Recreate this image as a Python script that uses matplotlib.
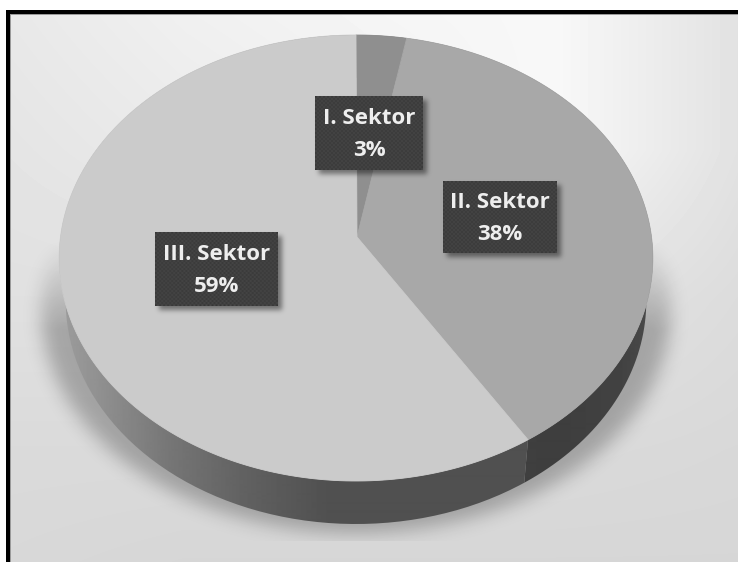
'''
========================================================================
plot.py
------------------------------------------------------------------------
3d looking pie chart of the economic sectors, drawn by hand because
matplotlib's pie has no perspective
========================================================================
'''
#
# imports
#
import numpy as np
import matplotlib
matplotlib.use('Agg')
import matplotlib.pyplot as plt
from matplotlib.path import Path
from matplotlib.patches import PathPatch, Rectangle
#
# data
#
sectors=['I. Sektor','II. Sektor','III. Sektor']
shares=[3,38,59]
#
# styles, one entry per slice
#
top_grays=[0x8f,0xa8,0xcb]
boxes=[(315,96,423,170),(443,181,557,253),(155,232,278,306)]
W,H=738,562
#
# helper functions
#
def rim(t,dy=0.0,s=1.0):
  '''
  perspective projection of the unit circle, t clockwise from the top
  '''
  u,v=np.sin(t),np.cos(t)
  d=1+0.0942*v
  x=295.5*u/d*s+356
  y=(237-198.7*v)/d+dy
  return x,y

def apex():
  return 357.0,237.0

def gauss(a,sig):
  k=np.exp(-0.5*(np.arange(-int(3*sig),int(3*sig)+1)/sig)**2)
  k=k/k.sum()
  a=np.apply_along_axis(lambda c:np.convolve(c,k,mode='same'),0,a)
  a=np.apply_along_axis(lambda c:np.convolve(c,k,mode='same'),1,a)
  return a

def gradient_fill(ax,verts,xp,gp,z):
  '''
  fill polygon with a horizontal gray gradient
  '''
  x=np.arange(W)+0.5
  g=np.interp(x,xp,gp)[None,:]/255
  im=ax.imshow(g,extent=(0,W,H,0),cmap='gray',vmin=0,vmax=1,aspect='auto',zorder=z,interpolation='bilinear')
  patch=PathPatch(Path(verts,closed=False),transform=ax.transData,fc='none',ec='none')
  ax.add_patch(patch)
  im.set_clip_path(patch)

def overlay(ax,alpha,z):
  rgba=np.zeros((H,W,4))
  rgba[...,3]=alpha
  ax.imshow(rgba,extent=(0,W,H,0),aspect='auto',zorder=z,interpolation='bilinear')

def background():
  '''
  smooth gray backdrop from a coarse grid of sampled grays
  '''
  gx=[0,185,370,555,738]
  gy=[10,150,300,450,562]
  gv=np.array([[0xe8,0xf0,0xf5,0xf8,0xe2],
               [0xe4,0xea,0xf0,0xf8,0xe2],
               [0xe0,0xe0,0xe0,0xe4,0xdc],
               [0xda,0xda,0xda,0xda,0xd8],
               [0xd8,0xd6,0xd6,0xd6,0xd6]],dtype=float)
  x=np.arange(W)+0.5
  y=np.arange(H)+0.5
  rows=np.array([np.interp(x,gx,r) for r in gv])
  return np.array([np.interp(y,gy,rows[:,j]) for j in range(W)]).T
#
# main program
#
if __name__ == '__main__':

  fig=plt.figure(figsize=(W/100,H/100),dpi=100)
  ax=fig.add_axes([0,0,1,1])
  X,Y=np.meshgrid(np.arange(W)+0.5,np.arange(H)+0.5)
  #
  # background
  #
  ax.imshow(background()/255,extent=(0,W,H,0),cmap='gray',vmin=0,vmax=1,aspect='auto',zorder=0)
  #
  # soft shadow below the pie
  #
  tt=np.linspace(0,2*np.pi,721)
  sx,sy=rim(tt,dy=52,s=1.06)
  inside=Path(np.c_[sx,sy]).contains_points(np.c_[X.ravel(),Y.ravel()]).reshape(H,W)
  sh=gauss(inside.astype(float),9)*0.26
  sh=sh*np.clip((Y-240)/90,0,1)
  sh[Y>541]=0
  overlay(ax,sh,1)
  #
  # slices
  #
  frac=np.cumsum([0]+shares)/sum(shares)
  ang=2*np.pi*frac
  wall_xp=[[0,W],[500,560,620,660],[55,95,170,250,330,540]]
  wall_gp=[[70,70],[64,62,66,76],[158,146,118,96,80,80]]
  for i in range(len(shares)):
    t=np.linspace(ang[i],ang[i+1],200)
    x0,y0=rim(t)
    x1,y1=rim(t[::-1],dy=43,s=0.978)
    gradient_fill(ax,np.c_[np.r_[x0,x1,x0[0]],np.r_[y0,y1,y0[0]]],wall_xp[i],wall_gp[i],2)
  for i in range(len(shares)):
    t=np.linspace(ang[i],ang[i+1],200)
    x0,y0=rim(t)
    cx,cy=apex()
    g=top_grays[i]/255
    ax.fill(np.r_[cx,x0],np.r_[cy,y0],color=(g,g,g),lw=0.6,zorder=3)
  #
  # shadows of the label boxes
  #
  m=np.zeros((H,W))
  for (x0,y0,x1,y1) in boxes:
    m[y0+4:y1+4,x0+4:x1+4]=1
  overlay(ax,gauss(m,2.5)*0.45,4)
  #
  # labels
  #
  for name,val,(x0,y0,x1,y1) in zip(sectors,shares,boxes):
    ny,nx=(y1-y0)//2,(x1-x0)//2
    chk=np.indices((ny,nx)).sum(axis=0)%2
    ax.imshow(0.21+0.08*chk,extent=(x0,x1,y1,y0),cmap='gray',vmin=0,vmax=1,aspect='auto',zorder=5,interpolation='bilinear')
    xc=(x0+x1)/2
    ax.text(xc,y0+22,name,color='#eeeeee',ha='center',va='center',fontsize=16,fontweight='bold',family='Open Sans',zorder=6)
    ax.text(xc,y0+54,'%d%%'%val,color='#eeeeee',ha='center',va='center',fontsize=16,fontweight='bold',family='Open Sans',zorder=6)
  #
  # black frame and white margin
  #
  ax.add_patch(Rectangle((0,0),W,10,fc='white',ec='none',zorder=7))
  ax.add_patch(Rectangle((0,0),6,H,fc='white',ec='none',zorder=7))
  ax.add_patch(Rectangle((6,13),W,1.5,fc='#9a9a9a',ec='none',zorder=7))
  ax.add_patch(Rectangle((9,13),1.5,H,fc='#9a9a9a',ec='none',zorder=7))
  ax.add_patch(Rectangle((6,10),W,3.5,fc='black',ec='none',zorder=8))
  ax.add_patch(Rectangle((6,10),3.5,H,fc='black',ec='none',zorder=8))
  ax.set_xlim(0,W)
  ax.set_ylim(H,0)
  ax.axis('off')
  fig.savefig('out.png',dpi=100)
